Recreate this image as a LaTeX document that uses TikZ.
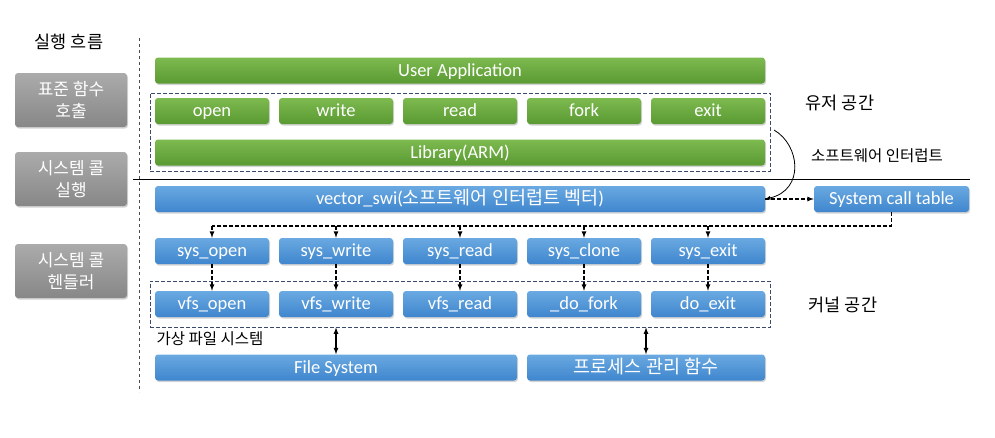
\documentclass[tikz,border=0pt]{standalone}
\usepackage{fontspec}
\setmainfont{Carlito}
\newfontfamily\kr{Noto Sans CJK KR}
\usetikzlibrary{shadows,fit,arrows}

\definecolor{greentop}{HTML}{7DBA50}
\definecolor{greenbot}{HTML}{5A9A32}
\definecolor{bluetop}{HTML}{6AA9E1}
\definecolor{bluebot}{HTML}{3F86CE}
\definecolor{graytop}{HTML}{ABABAB}
\definecolor{graybot}{HTML}{878787}
\definecolor{boxline}{HTML}{3B4A6B}

\tikzset{
  box/.style={rounded corners=3pt, text=white, minimum height=26pt, inner sep=0pt,
    font=\fontsize{18.5}{20}\selectfont, text height=15.5pt, text depth=4pt,
    drop shadow={shadow xshift=1pt, shadow yshift=-1.5pt, opacity=0.35}},
  greenbox/.style={box, top color=greentop, bottom color=greenbot},
  bluebox/.style={box, top color=bluetop, bottom color=bluebot},
  graybox/.style={box, top color=graytop, bottom color=graybot, align=center,
    text height=, text depth=,
    minimum width=112pt, minimum height=54pt, font=\kr\fontsize{17}{22}\selectfont},
  groupbox/.style={draw=boxline, dash pattern=on 4pt off 2pt, thin, inner xsep=5pt},
  flowline/.style={line width=1.2pt, dash pattern=on 4pt off 2pt},
  label/.style={font=\kr\fontsize{17.5}{20}\selectfont},
  smalllabel/.style={font=\kr\fontsize{15.5}{18}\selectfont},
}

\begin{document}
\begin{tikzpicture}[x=1pt, y=-1pt]
  \useasboundingbox (0,0) rectangle (995,437);

  % Left column: flow of execution
  \node[label] (flow) at (69,42) {실행 흐름};
  \node[graybox] (stdcall) at (71,100) {표준 함수\\호출};
  \node[graybox] (syscall) at (71,179) {시스템 콜\\실행};
  \node[graybox] (handler) at (71,271) {시스템 콜\\헨들러};

  % Separators
  \coordinate (vtop) at (139,38);
  \coordinate (vbot) at (139,392);
  \draw[dashed, thick, black!70] (vtop) -- (vbot);
  \coordinate (hleft) at (133,179);
  \coordinate (hright) at (970,179);
  \draw[thick] (hleft) -- (hright);

  % User space
  \node[greenbox, minimum width=610pt] (userapp) at (460,70.5) {User Application};
  \foreach \n/\x in {open/212, write/336, read/460, fork/584, exit/708}
    \node[greenbox, minimum width=114pt] (\n) at (\x,111) {\n};
  \node[greenbox, minimum width=610pt] (library) at (460,152.5) {Library(ARM)};
  \node[groupbox, inner ysep=5pt, fit=(open)(exit)(library)] (userbox) {};
  \node[label] (userspace) at (840,103) {유저 공간};
  \node[smalllabel] (swint) at (877,156) {소프트웨어 인터럽트};

  % Kernel space
  \node[bluebox, minimum width=610pt] (vecswi) at (460,199)
    {vector\_swi({\kr 소프트웨어 인터럽트 벡터})};
  \node[bluebox, minimum width=155pt] (sct) at (891.5,199) {System call table};
  \foreach \n/\x in {open/212, write/336, read/460, clone/584, exit/708}
    \node[bluebox, minimum width=114pt] (sys\n) at (\x,251) {sys\_\n};
  \foreach \n/\t/\x in {open/vfs\_open/212, write/vfs\_write/336, read/vfs\_read/460,
                        clone/\_do\_fork/584, exit/do\_exit/708}
    \node[bluebox, minimum width=114pt] (vfs\n) at (\x,304) {\t};
  \node[groupbox, inner ysep=10pt, fit=(vfsopen)(vfsexit)] (kernelbox) {};
  \node[bluebox, minimum width=362pt] (fs) at (336,367.5) {File System};
  \node[bluebox, minimum width=238pt] (proc) at (646,367.5) {\kr 프로세스 관리 함수};
  \node[smalllabel] (vfslabel) at (210,339) {가상 파일 시스템};
  \node[label] (kernelspace) at (843,305) {커널 공간};

  % Software interrupt
  \coordinate (swstart) at (774,130);
  \draw[thick, -latex] (swstart) .. controls (800,145) and (805,190) .. (vecswi.east);
  \draw[flowline, -latex] (vecswi.east) -- (sct.west);

  % System call table to handlers
  \coordinate (busR) at (sct.south |- 0,226);
  \coordinate (busL) at (sysopen.north |- 0,226);
  \draw[flowline] (sct.south) -- (busR) -- (busL);
  \foreach \n in {open, write, read, clone, exit}
    \draw[flowline, -latex] (sys\n.north |- busL) -- (sys\n.north);
  \foreach \n in {open, write, read, clone, exit}
    \draw[flowline, -latex] (sys\n.south) -- (vfs\n.north);

  % Lower layers
  \draw[line width=1.2pt, latex-latex] (kernelbox.south -| fs) -- (fs.north);
  \draw[line width=1.2pt, latex-latex] (kernelbox.south -| proc) -- (proc.north);
\end{tikzpicture}
\end{document}
